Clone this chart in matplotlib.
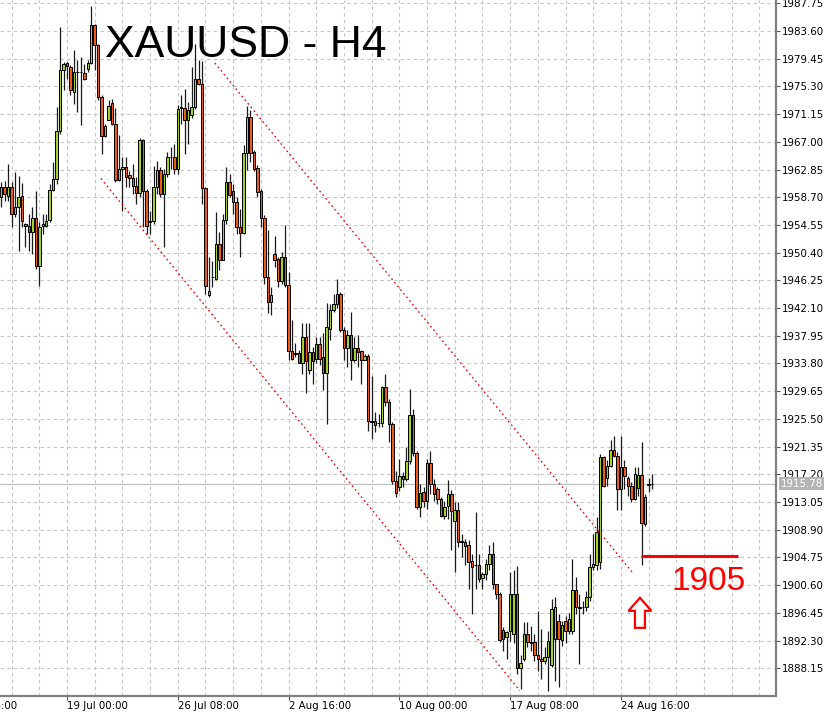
import matplotlib
matplotlib.use("Agg")
import matplotlib.pyplot as plt
import matplotlib.transforms as mtransforms
from matplotlib.patches import Polygon
import numpy as np

# ---------------- data (XAUUSD H4, bar index 0 = 19 Jul 00:00) ----------------
first_bar = -19
opens = [1958.7, 1960.2, 1958.95, 1960.2, 1956.2, 1957.3, 1958.95, 1954.7, 1954.4, 1953.45,
         1955.6, 1948.45, 1954.4, 1954.4, 1955.3, 1959.8, 1961.45, 1968.6, 1977.8,
         1978.8, 1978.2, 1974.45, 1977.4, 1977.45, 1977.3, 1977.95, 1978.8, 1984.45, 1981.45,
         1973.7, 1967.8, 1970.3, 1972.8, 1969.7, 1961.3, 1963.0, 1963.3, 1962.1, 1961.6,
         1960.45, 1959.3, 1967.2, 1959.7, 1955.0, 1955.1, 1960.3, 1962.8, 1959.2, 1962.2,
         1964.7, 1964.7, 1962.95, 1972.1, 1972.1, 1970.2, 1970.95, 1972.2, 1976.45, 1975.7,
         1960.1, 1944.1, 1946.7, 1946.5, 1951.75, 1949.35, 1955.35, 1961.0, 1959.7, 1958.0,
         1954.25, 1953.35, 1965.4, 1970.7, 1965.5, 1963.1, 1959.6, 1955.65, 1946.75, 1943.0,
         1950.25, 1949.5, 1946.2, 1949.75, 1945.5, 1935.6, 1935.3, 1935.4, 1933.9, 1937.7,
         1932.8, 1935.5, 1934.4, 1936.7, 1934.8, 1932.4, 1939.0, 1941.75, 1942.65, 1944.15,
         1938.75, 1936.15, 1938.0, 1934.35, 1936.15, 1935.6, 1934.35, 1934.95, 1925.15, 1925.25,
         1924.9, 1924.85, 1930.35, 1928.0, 1924.75, 1916.15, 1915.25, 1917.0, 1916.5, 1919.25,
         1926.15, 1920.35, 1912.25, 1914.5, 1913.25, 1918.85, 1915.75, 1915.0, 1913.5, 1911.0,
         1912.4, 1914.2, 1910.2, 1911.8, 1907.2, 1907.05, 1906.55, 1904.2, 1903.55, 1903.55,
         1901.7, 1902.2, 1903.8, 1905.3, 1900.7, 1899.3, 1893.9, 1892.8, 1893.8, 1893.3,
         1899.3, 1888.2, 1889.5, 1893.3, 1892.1, 1892.1, 1890.2, 1889.6, 1889.3, 1889.9,
         1888.6, 1892.5, 1895.3, 1892.4, 1895.3, 1893.8, 1893.8, 1899.9, 1897.4, 1897.3,
         1897.3, 1898.8, 1903.3, 1903.6, 1904.0, 1919.8, 1916.7, 1918.5, 1920.9, 1920.0,
         1915.0, 1918.3, 1916.7, 1915.5, 1913.5, 1915.2, 1917.1, 1909.8, 1915.6, 1915.7]
highs = [1960.95, 1961.2, 1963.7, 1960.95, 1962.45, 1961.95, 1960.8, 1954.8, 1956.2, 1957.3,
         1959.7, 1954.95, 1956.2, 1956.2, 1960.7, 1963.95, 1972.2, 1984.2, 1978.95,
         1978.95, 1978.45, 1980.8, 1979.2, 1979.7, 1978.7, 1979.2, 1987.3, 1984.7, 1981.7,
         1973.95, 1969.7, 1973.2, 1973.45, 1972.1, 1967.95, 1964.7, 1964.8, 1962.7, 1963.7,
         1961.7, 1967.6, 1967.45, 1959.95, 1956.7, 1963.45, 1964.1, 1963.2, 1963.0, 1965.45,
         1966.2, 1966.7, 1972.45, 1973.95, 1974.95, 1972.95, 1978.2, 1981.7, 1979.2, 1979.1,
         1960.3, 1949.7, 1949.2, 1956.5, 1953.5, 1956.25, 1963.3, 1962.2, 1960.75, 1958.75,
         1957.0, 1966.5, 1972.3, 1971.8, 1965.75, 1963.5, 1960.0, 1956.0, 1953.85, 1945.25,
         1952.85, 1949.75, 1950.5, 1954.5, 1947.5, 1940.3, 1936.8, 1935.8, 1939.8, 1939.8,
         1939.8, 1936.3, 1937.8, 1937.8, 1938.3, 1942.8, 1942.75, 1944.25, 1946.5, 1944.5,
         1939.25, 1938.75, 1941.5, 1937.75, 1938.0, 1935.75, 1935.25, 1935.25, 1932.0, 1926.5,
         1926.25, 1930.5, 1932.25, 1928.5, 1925.0, 1917.75, 1919.5, 1917.5, 1921.25, 1930.0,
         1927.0, 1920.75, 1915.75, 1915.25, 1919.5, 1920.75, 1916.5, 1915.25, 1913.75, 1913.25,
         1916.3, 1914.9, 1913.05, 1913.05, 1908.3, 1907.55, 1907.4, 1905.3, 1911.55, 1905.3,
         1902.55, 1904.55, 1906.55, 1907.05, 1900.8, 1899.55, 1894.3, 1893.8, 1902.55, 1902.8,
         1903.4, 1890.1, 1895.1, 1895.1, 1894.5, 1893.3, 1896.8, 1894.1, 1891.3, 1893.7,
         1898.6, 1898.8, 1896.3, 1895.3, 1896.0, 1896.5, 1904.5, 1901.8, 1899.3, 1898.3,
         1899.8, 1905.3, 1908.3, 1910.8, 1920.3, 1920.0, 1919.3, 1922.3, 1923.0, 1920.5,
         1923.0, 1919.3, 1917.0, 1916.0, 1918.3, 1918.3, 1922.1, 1914.3, 1916.6, 1917.2]
lows = [1957.2, 1958.2, 1958.2, 1954.2, 1955.7, 1950.7, 1954.2, 1951.2, 1950.7, 1950.2,
        1947.95, 1945.45, 1953.2, 1954.2, 1954.95, 1959.7, 1960.7, 1968.2, 1974.7,
        1976.45, 1973.95, 1972.7, 1971.45, 1969.45, 1976.2, 1977.45, 1978.7, 1977.7, 1973.2,
        1965.2, 1967.7, 1970.2, 1969.45, 1960.95, 1961.2, 1956.7, 1960.2, 1960.2, 1959.2,
        1957.7, 1958.7, 1954.2, 1953.2, 1953.2, 1954.7, 1959.2, 1958.7, 1951.2, 1961.7,
        1962.95, 1962.2, 1962.2, 1969.7, 1965.2, 1966.7, 1970.6, 1971.95, 1975.45, 1957.7,
        1944.2, 1943.7, 1945.2, 1946.25, 1947.75, 1949.25, 1954.75, 1958.75, 1956.25, 1953.25,
        1949.75, 1953.25, 1962.75, 1964.0, 1962.7, 1958.75, 1954.25, 1945.75, 1941.3, 1941.0,
        1948.25, 1945.25, 1945.75, 1945.25, 1934.3, 1934.3, 1934.8, 1933.8, 1932.3, 1929.4,
        1932.3, 1930.8, 1933.8, 1933.5, 1929.8, 1924.8, 1937.25, 1941.5, 1942.15, 1938.5,
        1934.25, 1933.25, 1931.35, 1934.0, 1933.25, 1930.75, 1934.25, 1923.75, 1922.5, 1923.5,
        1924.25, 1924.25, 1927.5, 1922.0, 1915.75, 1913.75, 1914.75, 1915.25, 1916.25, 1918.75,
        1920.0, 1912.0, 1910.75, 1912.25, 1912.0, 1914.25, 1913.25, 1912.75, 1910.75, 1910.5,
        1910.55, 1905.8, 1902.55, 1906.3, 1904.8, 1903.55, 1900.05, 1896.3, 1900.05, 1901.05,
        1900.05, 1901.3, 1902.8, 1900.05, 1898.55, 1892.05, 1890.8, 1889.55, 1892.3, 1892.0,
        1887.3, 1885.1, 1889.3, 1891.3, 1890.8, 1889.3, 1887.8, 1886.6, 1888.8, 1884.7,
        1888.3, 1886.3, 1885.3, 1891.5, 1892.0, 1893.3, 1893.3, 1896.3, 1888.8, 1896.3,
        1896.8, 1898.3, 1902.8, 1902.8, 1903.0, 1915.3, 1915.5, 1918.3, 1919.8, 1911.8,
        1911.8, 1915.0, 1914.0, 1913.0, 1913.3, 1914.0, 1903.6, 1909.5, 1914.6, 1915.0]
closes = [1960.2, 1959.2, 1960.2, 1956.2, 1957.3, 1958.7, 1955.2, 1954.4, 1953.45, 1955.6,
          1948.45, 1954.3, 1954.7, 1955.2, 1959.8, 1961.45, 1968.6, 1977.8, 1978.7,
          1978.3, 1974.7, 1977.45, 1977.5, 1977.4, 1976.45, 1978.8, 1984.45, 1981.45, 1973.7,
          1967.8, 1969.3, 1972.3, 1969.7, 1961.3, 1962.95, 1963.3, 1961.7, 1961.6, 1960.45,
          1959.3, 1967.2, 1959.7, 1954.45, 1955.2, 1960.3, 1962.8, 1959.2, 1962.2, 1964.7,
          1964.8, 1962.95, 1971.95, 1972.2, 1970.2, 1971.8, 1972.2, 1976.45, 1975.7, 1960.1,
          1945.45, 1944.7, 1946.8, 1951.75, 1949.35, 1955.35, 1961.0, 1959.0, 1958.0, 1954.25,
          1953.35, 1965.4, 1970.7, 1965.4, 1963.0, 1959.5, 1955.65, 1946.75, 1943.0, 1944.0,
          1949.25, 1946.2, 1949.75, 1945.5, 1935.6, 1934.4, 1935.2, 1933.9, 1937.7, 1934.2,
          1935.5, 1934.2, 1936.7, 1934.4, 1932.4, 1939.3, 1941.75, 1942.65, 1944.15, 1938.75,
          1936.15, 1938.0, 1934.35, 1936.15, 1935.5, 1934.35, 1934.95, 1925.15, 1925.0, 1924.65,
          1924.85, 1930.35, 1928.0, 1924.75, 1916.15, 1914.35, 1917.0, 1916.5, 1919.25, 1926.15,
          1920.35, 1912.25, 1914.35, 1913.25, 1918.85, 1915.75, 1914.25, 1913.5, 1911.0, 1912.25,
          1914.2, 1911.7, 1911.8, 1907.05, 1907.1, 1906.4, 1904.05, 1903.3, 1903.6, 1901.55,
          1902.2, 1903.8, 1905.3, 1900.7, 1899.3, 1892.4, 1892.55, 1893.55, 1899.3, 1899.3,
          1888.2, 1888.9, 1893.3, 1892.1, 1892.0, 1890.2, 1889.6, 1889.3, 1889.9, 1892.3,
          1897.1, 1897.3, 1892.5, 1894.6, 1893.8, 1895.6, 1899.9, 1897.3, 1897.2, 1897.4,
          1898.8, 1903.3, 1903.7, 1908.6, 1919.8, 1915.4, 1918.5, 1920.9, 1920.0, 1915.0,
          1918.3, 1916.9, 1915.5, 1913.5, 1917.2, 1917.1, 1909.9, 1913.8, 1915.7, 1915.78]

time_labels = ["11 Jul 16:00", "19 Jul 00:00", "26 Jul 08:00", "2 Aug 16:00",
               "10 Aug 00:00", "17 Aug 08:00", "24 Aug 16:00"]
time_label_bars = [-32, 0, 32, 64, 96, 128, 160]
price_ticks = [1888.15 + 4.15 * k for k in range(25)]
bid_price = 1915.78

channel_upper = ([42.7, 163.5], [1978.8, 1902.4])
channel_lower = ([9.8, 130.8], [1961.5, 1884.8])
support_level = 1905.0
support_bars = [165.8, 193.8]
arrow_bar, arrow_price = 165.5, 1898.7
title = "XAUUSD - H4"

# ---------------- figure ----------------
W, H = 832, 712
fig = plt.figure(figsize=(W / 100, H / 100), dpi=100)
ax = fig.add_axes([0, 16 / H, 776 / W, 1 - 16 / H])

n = len(opens)
idx = np.arange(first_bar, first_bar + n)
o = np.array(opens); c = np.array(closes); h = np.array(highs); l = np.array(lows)
up = c >= o
bull_col = "#a5cf2e"
bear_col = "#ee5a1c"

ax.vlines(idx, l, h, color="#1a1a1a", linewidth=0.9, zorder=3)
bottoms = np.minimum(o, c)
heights = np.maximum(np.abs(c - o), 0.08)
ax.bar(idx, heights, bottom=bottoms, width=0.72,
       color=np.where(up, bull_col, bear_col), edgecolor="black", linewidth=0.7, zorder=4)

# grid
ax.set_xlim(-19.35, 204.8)
ax.set_ylim(1884.0, 1988.24)
ax.set_xticks([b for b in time_label_bars if -19.35 <= b <= 204.8])
ax.set_xticks(np.arange(-16, 205, 8), minor=True)
ax.set_xticklabels([])
ax.tick_params(axis="x", which="major", direction="out", length=3, color="#555555")
ax.tick_params(axis="x", which="minor", length=0)
ax.grid(which="both", axis="x", color="#c4c4c4", linestyle=(0, (3, 3)), linewidth=0.8, zorder=0)
ax.grid(which="major", axis="y", color="#c4c4c4", linestyle=(0, (3, 3)), linewidth=0.8, zorder=0)

ax.yaxis.tick_right()
ax.set_yticks(price_ticks)
ax.set_yticklabels([f"{p:.2f}" for p in price_ticks], fontsize=7.4, family="DejaVu Sans")
ax.tick_params(axis="y", direction="out", length=3, pad=1, color="#555555")

for side in ("top", "left"):
    ax.spines[side].set_visible(False)
for side in ("right", "bottom"):
    ax.spines[side].set_color("#808080")
    ax.spines[side].set_linewidth(1.6)

# time labels
xtrans = mtransforms.blended_transform_factory(ax.transData, ax.transAxes)
for b, lab in zip(time_label_bars, time_labels):
    ax.text(b, -0.007, lab, transform=xtrans, ha="left", va="top",
            fontsize=7.4, family="DejaVu Sans", clip_on=False)

# bid line
ax.axhline(bid_price, color="#c0c0c0", linewidth=0.9, zorder=2)
ytrans = mtransforms.blended_transform_factory(ax.transAxes, ax.transData)
ax.text(1.006, bid_price, f"{bid_price:.2f}", transform=ytrans, ha="left", va="center",
        fontsize=7.4, family="DejaVu Sans", color="white", clip_on=False, zorder=6,
        bbox=dict(boxstyle="square,pad=0.15", facecolor="#b4b4b4", edgecolor="none"))

# channel
ax.plot(*channel_upper, color="red", linestyle=(0, (1.2, 2.2)), linewidth=1.0, zorder=5)
ax.plot(*channel_lower, color="red", linestyle=(0, (1.2, 2.2)), linewidth=1.0, zorder=5)

# support level annotation
ax.plot(support_bars, [support_level, support_level], color="red", linewidth=2.2,
        solid_capstyle="butt", zorder=5)
ax.text(185.4, 1901.2, f"{support_level:.0f}", color="red", fontsize=24,
        family="Liberation Sans", ha="center", va="center", zorder=6)

# hollow up arrow (tip anchored at data point, shape in pixels)
shape_px = [(0, 0), (11.5, -13), (5, -13), (5, -30), (-5, -30), (-5, -13), (-11.5, -13)]
shape_in = [(x / 100, y / 100) for x, y in shape_px]
atrans = fig.dpi_scale_trans + mtransforms.ScaledTranslation(arrow_bar, arrow_price, ax.transData)
ax.add_patch(Polygon(shape_in, closed=True, transform=atrans, facecolor="white",
                     edgecolor="red", linewidth=1.6, zorder=6, clip_on=False))

# title
fig.text(105 / W, 1 - 57 / H, title, fontsize=32, family="Liberation Sans",
         ha="left", va="baseline", color="black")

fig.savefig("out.png", dpi=100)
